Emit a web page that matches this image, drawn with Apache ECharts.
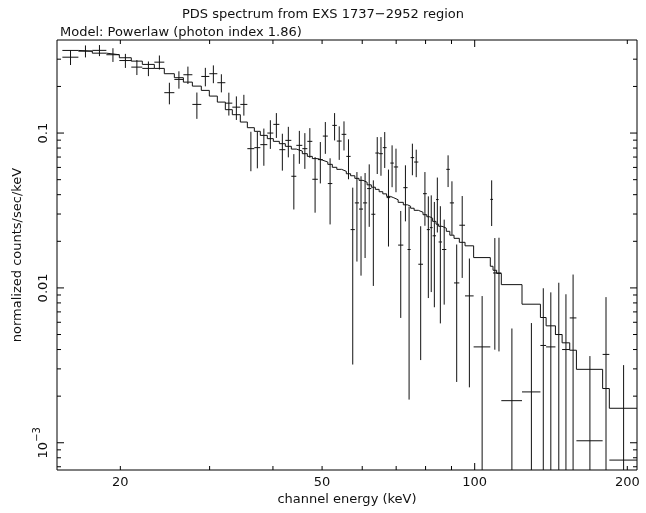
<!DOCTYPE html>
<html>
<head>
<meta charset="utf-8">
<title>PDS spectrum</title>
<script src="https://cdn.jsdelivr.net/npm/echarts@6/dist/echarts.min.js"></script>
<style>
html, body { margin: 0; padding: 0; background: #fff; }
#chart { width: 646px; height: 513px; }
</style>
</head>
<body>
<div id="chart"></div>
<script>
// channel edges (keV), one more than the number of channels
var edges = [15.37, 16.53, 17.61, 18.77, 19.91, 21.02, 22.10, 23.34, 24.42, 25.56,
  26.63, 27.74, 28.89, 29.96, 31.07, 32.22, 33.26, 34.49, 35.61, 36.76,
  37.77, 38.99, 40.07, 41.18, 42.31, 43.48, 44.48, 45.71, 46.76, 47.83,
  49.04, 50.17, 51.32, 52.38, 53.46, 54.64, 55.82, 56.92, 58.02, 59.13,
  60.22, 61.35, 62.53, 63.68, 64.79, 65.88, 67.03, 68.17, 69.26, 70.63,
  72.31, 73.71, 74.75, 75.95, 77.41, 79.08, 80.46, 81.57, 82.61, 83.90,
  84.89, 86.22, 87.91, 89.32, 91.04, 93.26, 95.71, 99.52, 107.35, 108.68,
  110.47, 112.85, 123.97, 134.78, 138.32, 144.29, 148.74, 153.97, 158.72, 178.80,
  184.32, 209];

// normalized counts/sec/keV
var rate = [0.309, 0.338, 0.342, 0.3205, 0.294, 0.2666, 0.2615, 0.287, 0.1823, 0.222,
  0.238, 0.1531, 0.232, 0.2417, 0.2114, 0.156, 0.147, 0.1531, 0.0793, 0.0805,
  0.0842, 0.100, 0.1138, 0.0781, 0.0897, 0.0526, 0.0833, 0.0793, 0.0884, 0.0503,
  0.0674, 0.0956, 0.0472, 0.1121, 0.0888, 0.0981, 0.0707, 0.0238, 0.0354, 0.0323,
  0.0354, 0.0438, 0.0299, 0.0743, 0.0736, 0.0805, 0.0383, 0.0640, 0.0604, 0.0189,
  0.0444, 0.0177, 0.0694, 0.0650, 0.01422, 0.0406, 0.0238, 0.0245, 0.0217, 0.0372,
  0.0198, 0.0177, 0.0583, 0.0354, 0.01077, 0.0254, 0.00888, 0.00416, 0.0373, 0.01249,
  0.01249, 0.00187, 0.00213, 0.00425, 0.00416, 0.0050, 0.0040, 0.0064, 0.00103, 0.00372,
  0.000773];

var rateErr = [0.034, 0.030, 0.028, 0.0326, 0.0306, 0.0296, 0.0284, 0.0299, 0.029, 0.0285,
  0.0306, 0.0296, 0.0317, 0.0318, 0.0283, 0.0263, 0.0255, 0.0235, 0.0226, 0.0213,
  0.0227, 0.021, 0.0208, 0.0209, 0.020, 0.0205, 0.020, 0.0206, 0.0192, 0.0197,
  0.0201, 0.0222, 0.0215, 0.0225, 0.0217, 0.0209, 0.0204, 0.0206, 0.0206, 0.0203,
  0.0198, 0.019, 0.0196, 0.0199, 0.0206, 0.021, 0.0198, 0.0193, 0.0189, 0.0125,
  0.0175, 0.0158, 0.016, 0.0131, 0.0108, 0.0154, 0.0152, 0.0151, 0.0142, 0.0144,
  0.0139, 0.0099, 0.0135, 0.0134, 0.0083, 0.0138, 0.0066, 0.0047, 0.0122, 0.0085,
  0.0086, 0.0036, 0.0038, 0.0057, 0.0052, 0.0058, 0.0051, 0.0058, 0.0026, 0.005,
  0.0024];

// folded powerlaw model, one value per channel
var model = [0.3417, 0.3381, 0.3281, 0.3205, 0.3065, 0.2914, 0.2775, 0.2615, 0.2417, 0.2278,
  0.2133, 0.201, 0.1886, 0.1733, 0.1585, 0.1416, 0.1314, 0.1178, 0.1083, 0.1026,
  0.0966, 0.092, 0.0884, 0.0854, 0.0821, 0.0788, 0.0765, 0.0736, 0.0707, 0.0684,
  0.0667, 0.065, 0.0628, 0.0601, 0.0583, 0.0566, 0.0546, 0.053, 0.051, 0.0495,
  0.0481, 0.0463, 0.0447, 0.0433, 0.0418, 0.0405, 0.039, 0.0382, 0.0371, 0.0357,
  0.0344, 0.0337, 0.0327, 0.0317, 0.0308, 0.0297, 0.0288, 0.0282, 0.0269, 0.0258,
  0.025, 0.0243, 0.0232, 0.0219, 0.0209, 0.0197, 0.0187, 0.0157, 0.0138, 0.013,
  0.0124, 0.0105, 0.00785, 0.00644, 0.00569, 0.0050, 0.00442, 0.00396, 0.00298, 0.00224,
  0.00167];

var xTicks = [20, 30, 40, 50, 60, 70, 80, 90, 100, 200];
var xLabelVals = [20, 50, 100, 200];
var xLabelText = ['20', '50', '100', '200'];
var yTicks = [0.0007, 0.0008, 0.0009, 0.001, 0.002, 0.003, 0.004, 0.005, 0.006, 0.007, 0.008, 0.009,
  0.01, 0.02, 0.03, 0.04, 0.05, 0.06, 0.07, 0.08, 0.09, 0.1, 0.2, 0.3];
var yLabelVals = [0.1, 0.01, 0.001];
var yLabelText = ['{n|0.1}', '{n|0.01}', '{n|10}{s|\u22123}'];

var FONT = 'DejaVu Sans';
var INK = '#111';

var points = [];
for (var i = 0; i < rate.length; i++) {
  points.push([(edges[i] + edges[i + 1]) / 2, rate[i], edges[i], edges[i + 1], rateErr[i]]);
}
var steps = [];
for (var j = 0; j < model.length; j++) steps.push([edges[j], model[j]]);
steps.push([edges[edges.length - 1], model[model.length - 1]]);

function crossItem(params, api) {
  var cs = params.coordSys;
  var top = cs.y, bottom = cs.y + cs.height;
  var c = api.value(0), r = api.value(1), lo = api.value(2), hi = api.value(3), e = api.value(4);
  var pc = api.coord([c, r]);
  var xl = Math.max(api.coord([lo, r])[0], cs.x);
  var xr = Math.min(api.coord([hi, r])[0], cs.x + cs.width);
  var yt = Math.max(api.coord([c, r + e])[1], top);
  var yb = r - e > 0 ? Math.min(api.coord([c, r - e])[1], bottom) : bottom;
  var kids = [{
    type: 'line',
    shape: { x1: pc[0], y1: yt, x2: pc[0], y2: yb },
    style: { stroke: INK, lineWidth: 1 }
  }];
  if (pc[1] >= top && pc[1] <= bottom) {
    kids.push({
      type: 'line',
      shape: { x1: xl, y1: pc[1], x2: xr, y2: pc[1] },
      style: { stroke: INK, lineWidth: 1 }
    });
  }
  return { type: 'group', children: kids };
}

var chart = echarts.init(document.getElementById('chart'));
var option = {
  animation: false,
  backgroundColor: '#fff',
  title: [{
    text: 'PDS spectrum from EXS 1737\u22122952 region',
    left: 'center', top: 3,
    textStyle: { fontFamily: FONT, fontSize: 13, fontWeight: 'normal', color: INK }
  }, {
    text: 'Model: Powerlaw (photon index 1.86)',
    left: 55, top: 21,
    textStyle: { fontFamily: FONT, fontSize: 13, fontWeight: 'normal', color: INK }
  }],
  grid: { left: 57, top: 40, right: 9, bottom: 43, show: true, borderColor: '#000', borderWidth: 1 },
  xAxis: {
    type: 'log', logBase: 10, min: 15, max: 209,
    axisLine: { show: false }, axisTick: { show: false },
    axisLabel: { show: false }, splitLine: { show: false }
  },
  yAxis: {
    type: 'log', logBase: 10, min: 0.000667, max: 0.399,
    axisLine: { show: false }, axisTick: { show: false },
    axisLabel: { show: false }, splitLine: { show: false }
  },
  series: [{
    name: 'model',
    type: 'line',
    step: 'end',
    data: steps,
    symbol: 'none',
    lineStyle: { color: INK, width: 1 },
    z: 2
  }, {
    name: 'data',
    type: 'custom',
    data: points,
    encode: { x: 0, y: 1 },
    renderItem: crossItem,
    z: 3
  }]
};
chart.setOption(option);

// frame ticks and labels, placed through the axes' own scales
var rect = chart.getModel().getComponent('grid').coordinateSystem.getRect();
var L = rect.x, R = rect.x + rect.width, T = rect.y, B = rect.y + rect.height;
var gfx = [];
function isDecade(v) { var l = Math.log10(v); return Math.abs(l - Math.round(l)) < 1e-6; }
function tick(x1, y1, x2, y2) {
  gfx.push({ type: 'line', shape: { x1: x1, y1: y1, x2: x2, y2: y2 }, style: { stroke: '#000', lineWidth: 1 }, silent: true });
}
xTicks.forEach(function (v) {
  var px = chart.convertToPixel({ xAxisIndex: 0 }, v);
  var len = isDecade(v) ? 7 : 4;
  tick(px, B, px, B - len);
  tick(px, T, px, T + len);
});
yTicks.forEach(function (v) {
  var py = chart.convertToPixel({ yAxisIndex: 0 }, v);
  var len = isDecade(v) ? 7 : 4;
  tick(L, py, L + len, py);
  tick(R, py, R - len, py);
});
xLabelVals.forEach(function (v, k) {
  var px = chart.convertToPixel({ xAxisIndex: 0 }, v);
  gfx.push({
    type: 'text', x: px, y: B + 13, silent: true,
    style: { text: xLabelText[k], fontFamily: FONT, fontSize: 13, fill: INK, align: 'center', verticalAlign: 'middle' }
  });
});
yLabelVals.forEach(function (v, k) {
  var py = chart.convertToPixel({ yAxisIndex: 0 }, v);
  gfx.push({
    type: 'text', x: L - 16, y: py, rotation: Math.PI / 2, silent: true,
    style: {
      text: yLabelText[k], fontFamily: FONT, fill: INK, align: 'center', verticalAlign: 'middle',
      rich: {
        n: { fontFamily: FONT, fontSize: 13, fill: INK, lineHeight: 18, verticalAlign: 'bottom' },
        s: { fontFamily: FONT, fontSize: 10, fill: INK, lineHeight: 18, verticalAlign: 'top' }
      }
    }
  });
});
gfx.push({
  type: 'text', x: (L + R) / 2, y: B + 30, silent: true,
  style: { text: 'channel energy (keV)', fontFamily: FONT, fontSize: 13, fill: INK, align: 'center', verticalAlign: 'middle' }
});
gfx.push({
  type: 'text', x: 18, y: (T + B) / 2, rotation: Math.PI / 2, silent: true,
  style: { text: 'normalized counts/sec/keV', fontFamily: FONT, fontSize: 13, fill: INK, align: 'center', verticalAlign: 'middle' }
});
chart.setOption({ graphic: gfx });
</script>
</body>
</html>
